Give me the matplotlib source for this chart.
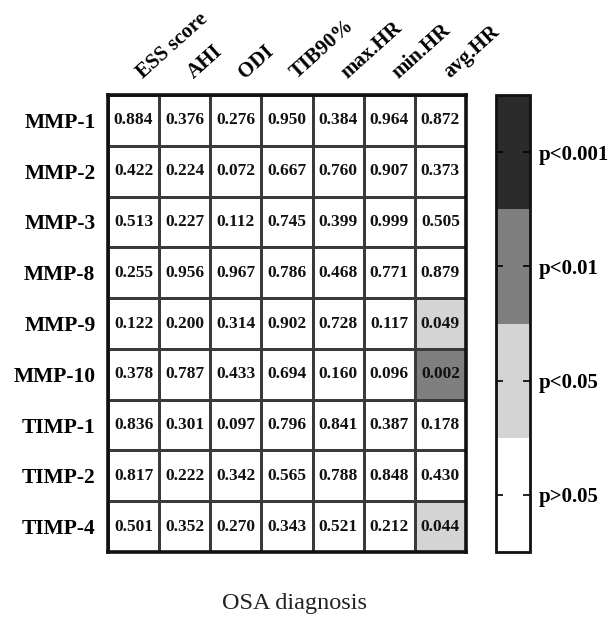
import numpy as np
import matplotlib
matplotlib.use("Agg")
import matplotlib.pyplot as plt
from matplotlib.colors import ListedColormap, BoundaryNorm

plt.rcParams['font.family'] = ['Liberation Serif', 'DejaVu Serif']

columns = ["ESS score", "AHI", "ODI", "TIB90%", "max.HR", "min.HR", "avg.HR"]
rows = ["MMP-1", "MMP-2", "MMP-3", "MMP-8", "MMP-9", "MMP-10", "TIMP-1", "TIMP-2", "TIMP-4"]
pvalues = np.array([
    [0.884, 0.376, 0.276, 0.950, 0.384, 0.964, 0.872],
    [0.422, 0.224, 0.072, 0.667, 0.760, 0.907, 0.373],
    [0.513, 0.227, 0.112, 0.745, 0.399, 0.999, 0.505],
    [0.255, 0.956, 0.967, 0.786, 0.468, 0.771, 0.879],
    [0.122, 0.200, 0.314, 0.902, 0.728, 0.117, 0.049],
    [0.378, 0.787, 0.433, 0.694, 0.160, 0.096, 0.002],
    [0.836, 0.301, 0.097, 0.796, 0.841, 0.387, 0.178],
    [0.817, 0.222, 0.342, 0.565, 0.788, 0.848, 0.430],
    [0.501, 0.352, 0.270, 0.343, 0.521, 0.212, 0.044],
])
bounds = [0.0, 0.001, 0.01, 0.05, 1.0]
level_labels = ["p<0.001", "p<0.01", "p<0.05", "p>0.05"]
level_colors = ["#2b2b2b", "#7f7f7f", "#d4d4d4", "#ffffff"]

W, H = 609, 622
fig = plt.figure(figsize=(W / 100, H / 100), dpi=100)
ax = fig.add_axes([108 / W, 1 - 552 / H, 358 / W, 457 / H])
cax = fig.add_axes([496 / W, 1 - 552 / H, 34 / W, 457 / H])

cmap = ListedColormap(level_colors)
norm = BoundaryNorm(bounds, cmap.N)

nr, nc = pvalues.shape
mesh = ax.pcolormesh(np.arange(nc + 1) - 0.5, np.arange(nr + 1) - 0.5, pvalues,
                     cmap=cmap, norm=norm, edgecolors="#3a3a3a", linewidth=1.0)
ax.set_xlim(-0.5, nc - 0.5)
ax.set_ylim(nr - 0.5, -0.5)

for i in range(nr):
    for j in range(nc):
        ax.text(j, i, f"{pvalues[i, j]:.3f}", ha="center", va="center",
                fontsize=12.5, fontweight="bold", color="#111111")

ax.set_yticks(np.arange(nr))
ax.set_yticklabels(rows, fontsize=15.5, fontweight="bold")
ax.set_xticks([])
ax.tick_params(axis="y", length=0, pad=9)
for s in ax.spines.values():
    s.set_linewidth(2.6)
    s.set_color("#111111")

for j, name in enumerate(columns):
    ax.text(j + 0.25, -0.75, name, ha="left", va="bottom", rotation=42,
            rotation_mode="anchor", fontsize=15, fontweight="bold")

cb = fig.colorbar(mesh, cax=cax, spacing="uniform", boundaries=bounds)
mids = [(bounds[k] + bounds[k + 1]) / 2 for k in range(len(bounds) - 1)]
cb.set_ticks(mids)
cb.set_ticklabels(level_labels)
cax.minorticks_off()
cax.invert_yaxis()
cax.tick_params(direction="in", left=True, right=True, length=5, width=1.2,
                labelsize=15, pad=6)
for lab in cax.get_yticklabels():
    lab.set_fontweight("bold")
cb.outline.set_linewidth(2.0)
cb.outline.set_edgecolor("#111111")

fig.text(294 / W, 1 - 603 / H, "OSA diagnosis", ha="center", va="center",
         fontsize=17.5, color="#222222")

fig.savefig("out.png", dpi=100)
